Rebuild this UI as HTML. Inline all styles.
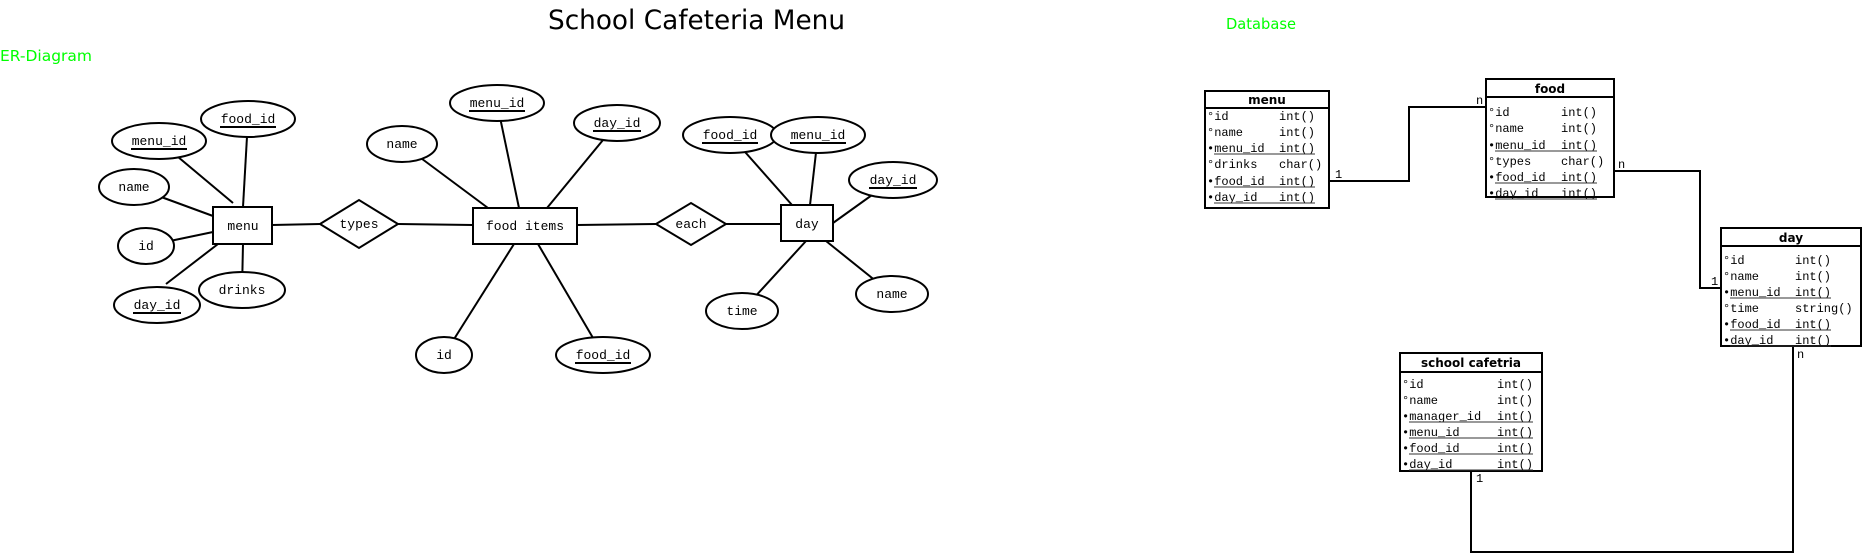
<!DOCTYPE html>
<html><head><meta charset="utf-8"><style>
html,body{margin:0;padding:0;background:#fff;}
svg{display:block;}
.m{font-family:"Liberation Mono",monospace;font-size:13px;fill:#000;}
.r{font-family:"Liberation Mono",monospace;font-size:12px;fill:#000;}
.h{font-family:"DejaVu Sans","Liberation Sans",sans-serif;font-size:12px;font-weight:bold;fill:#000;}
</style></head><body>
<svg width="1863" height="553" viewBox="0 0 1863 553" xmlns="http://www.w3.org/2000/svg">
<text x="548" y="29" font-family="DejaVu Sans, Liberation Sans, sans-serif" font-size="27" textLength="297" lengthAdjust="spacingAndGlyphs">School Cafeteria Menu</text>
<text x="0" y="61" font-family="DejaVu Sans, Liberation Sans, sans-serif" font-size="15" fill="#00ff00" textLength="92" lengthAdjust="spacingAndGlyphs">ER-Diagram</text>
<text x="1226" y="29" font-family="DejaVu Sans, Liberation Sans, sans-serif" font-size="15" fill="#00ff00" textLength="70" lengthAdjust="spacingAndGlyphs">Database</text>

<g stroke="#000" stroke-width="2" fill="none">
<!-- menu lines -->
<line x1="159" y1="141" x2="233" y2="203"/>
<line x1="248" y1="119" x2="243" y2="207"/>
<line x1="134" y1="187" x2="213" y2="216"/>
<line x1="146" y1="246" x2="213" y2="232"/>
<line x1="166" y1="284" x2="218" y2="244"/>
<line x1="242" y1="290" x2="243" y2="244"/>
<line x1="272" y1="225" x2="320" y2="224"/>
<line x1="398" y1="224" x2="473" y2="225"/>
<!-- food items lines -->
<line x1="402" y1="144" x2="488" y2="208"/>
<line x1="497" y1="103" x2="519" y2="208"/>
<line x1="617" y1="123" x2="547" y2="208"/>
<line x1="444" y1="355" x2="514" y2="244"/>
<line x1="603" y1="355" x2="538" y2="244"/>
<line x1="577" y1="225" x2="656" y2="224"/>
<line x1="726" y1="224" x2="781" y2="224"/>
<!-- day lines -->
<line x1="730" y1="135" x2="792" y2="205"/>
<line x1="818" y1="135" x2="810" y2="205"/>
<line x1="893" y1="180" x2="833" y2="223"/>
<line x1="742" y1="311" x2="806" y2="241"/>
<line x1="892" y1="294" x2="826" y2="241"/>
</g>

<g stroke="#000" stroke-width="2" fill="#fff">
<rect x="213" y="207" width="59" height="37"/>
<polygon points="320,224 359,200 398,224 359,248"/>
<rect x="473" y="208" width="104" height="36"/>
<polygon points="656,224 691,203 726,224 691,245"/>
<rect x="781" y="205" width="52" height="36"/>
<ellipse cx="159" cy="141" rx="47" ry="18"/>
<ellipse cx="248" cy="119" rx="47" ry="18"/>
<ellipse cx="134" cy="187" rx="35" ry="18"/>
<ellipse cx="146" cy="246" rx="28" ry="18"/>
<ellipse cx="157" cy="305" rx="43" ry="18"/>
<ellipse cx="242" cy="290" rx="43" ry="18"/>
<ellipse cx="402" cy="144" rx="35" ry="18"/>
<ellipse cx="497" cy="103" rx="47" ry="18"/>
<ellipse cx="617" cy="123" rx="43" ry="18"/>
<ellipse cx="444" cy="355" rx="28" ry="18"/>
<ellipse cx="603" cy="355" rx="47" ry="18"/>
<ellipse cx="730" cy="135" rx="47" ry="18"/>
<ellipse cx="818" cy="135" rx="47" ry="18"/>
<ellipse cx="893" cy="180" rx="44" ry="18"/>
<ellipse cx="892" cy="294" rx="36" ry="18"/>
<ellipse cx="742" cy="311" rx="36" ry="18"/>
</g>

<g class="m" text-anchor="middle">
<text x="243" y="230">menu</text>
<text x="359" y="228">types</text>
<text x="525" y="230">food items</text>
<text x="691" y="228">each</text>
<text x="807" y="228">day</text>
<text x="159" y="145">menu_id</text>
<text x="248" y="123">food_id</text>
<text x="134" y="191">name</text>
<text x="146" y="250">id</text>
<text x="157" y="309">day_id</text>
<text x="242" y="294">drinks</text>
<text x="402" y="148">name</text>
<text x="497" y="107">menu_id</text>
<text x="617" y="127">day_id</text>
<text x="444" y="359">id</text>
<text x="603" y="359">food_id</text>
<text x="730" y="139">food_id</text>
<text x="818" y="139">menu_id</text>
<text x="893" y="184">day_id</text>
<text x="892" y="298">name</text>
<text x="742" y="315">time</text>
</g>
<g stroke="#000" stroke-width="2">
<line x1="131" y1="149" x2="187" y2="149"/>
<line x1="220" y1="127" x2="276" y2="127"/>
<line x1="133" y1="313" x2="181" y2="313"/>
<line x1="469" y1="111" x2="525" y2="111"/>
<line x1="593" y1="131" x2="641" y2="131"/>
<line x1="575" y1="363" x2="631" y2="363"/>
<line x1="702" y1="143" x2="758" y2="143"/>
<line x1="790" y1="143" x2="846" y2="143"/>
<line x1="869" y1="188" x2="917" y2="188"/>
</g>

<!-- connectors -->
<g stroke="#000" stroke-width="2" fill="none">
<polyline points="1329,181 1409,181 1409,107 1486,107"/>
<polyline points="1614,171 1700,171 1700,288 1721,288"/>
<polyline points="1793,346 1793,552 1471,552 1471,471"/>
</g>
<g class="r" font-size="9">
<text x="1335" y="178">1</text>
<text x="1476" y="104">n</text>
<text x="1618" y="168">n</text>
<text x="1711" y="285">1</text>
<text x="1797" y="358">n</text>
<text x="1476" y="482">1</text>
</g>

<!-- tables -->
<g stroke="#000" stroke-width="2" fill="#fff">
<rect x="1205" y="91" width="124" height="117"/>
<line x1="1205" y1="108" x2="1329" y2="108"/>
<rect x="1486" y="79" width="128" height="118"/>
<line x1="1486" y1="97" x2="1614" y2="97"/>
<rect x="1721" y="228" width="140" height="118"/>
<line x1="1721" y1="246" x2="1861" y2="246"/>
<rect x="1400" y="353" width="142" height="118"/>
<line x1="1400" y1="372" x2="1542" y2="372"/>
</g>
<g class="h" text-anchor="middle">
<text x="1267" y="104">menu</text>
<text x="1550" y="93">food</text>
<text x="1791" y="242">day</text>
<text x="1471" y="367">school cafetria</text>
</g>

<g class="r">
<!-- menu rows -->
<text x="1207" y="120">°id</text><text x="1279" y="120">int()</text>
<text x="1207" y="136">°name</text><text x="1279" y="136">int()</text>
<text x="1207" y="152">•menu_id</text><text x="1279" y="152">int()</text>
<text x="1207" y="168">°drinks</text><text x="1279" y="168">char()</text>
<text x="1207" y="185">•food_id</text><text x="1279" y="185">int()</text>
<text x="1207" y="201">•day_id</text><text x="1279" y="201">int()</text>
<!-- food -->
<text x="1488" y="116">°id</text><text x="1561" y="116">int()</text>
<text x="1488" y="132">°name</text><text x="1561" y="132">int()</text>
<text x="1488" y="149">•menu_id</text><text x="1561" y="149">int()</text>
<text x="1488" y="165">°types</text><text x="1561" y="165">char()</text>
<text x="1488" y="181">•food_id</text><text x="1561" y="181">int()</text>
<text x="1488" y="197">•day_id</text><text x="1561" y="197">int()</text>
<!-- day -->
<text x="1723" y="264">°id</text><text x="1795" y="264">int()</text>
<text x="1723" y="280">°name</text><text x="1795" y="280">int()</text>
<text x="1723" y="296">•menu_id</text><text x="1795" y="296">int()</text>
<text x="1723" y="312">°time</text><text x="1795" y="312">string()</text>
<text x="1723" y="328">•food_id</text><text x="1795" y="328">int()</text>
<text x="1723" y="344">•day_id</text><text x="1795" y="344">int()</text>
<!-- school -->
<text x="1402" y="388">°id</text><text x="1497" y="388">int()</text>
<text x="1402" y="404">°name</text><text x="1497" y="404">int()</text>
<text x="1402" y="420">•manager_id</text><text x="1497" y="420">int()</text>
<text x="1402" y="436">•menu_id</text><text x="1497" y="436">int()</text>
<text x="1402" y="452">•food_id</text><text x="1497" y="452">int()</text>
<text x="1402" y="468">•day_id</text><text x="1497" y="468">int()</text>
</g>
<g stroke="#333" stroke-width="1">
<line x1="1214" y1="154" x2="1315" y2="154"/>
<line x1="1214" y1="187" x2="1315" y2="187"/>
<line x1="1214" y1="203" x2="1315" y2="203"/>
<line x1="1495" y1="151" x2="1597" y2="151"/>
<line x1="1495" y1="183" x2="1597" y2="183"/>
<line x1="1495" y1="199" x2="1597" y2="199"/>
<line x1="1730" y1="298" x2="1831" y2="298"/>
<line x1="1730" y1="330" x2="1831" y2="330"/>
<line x1="1730" y1="346" x2="1831" y2="346"/>
<line x1="1409" y1="422" x2="1533" y2="422"/>
<line x1="1409" y1="438" x2="1533" y2="438"/>
<line x1="1409" y1="454" x2="1533" y2="454"/>
<line x1="1409" y1="470" x2="1533" y2="470"/>
</g>
</svg>
</body></html>
